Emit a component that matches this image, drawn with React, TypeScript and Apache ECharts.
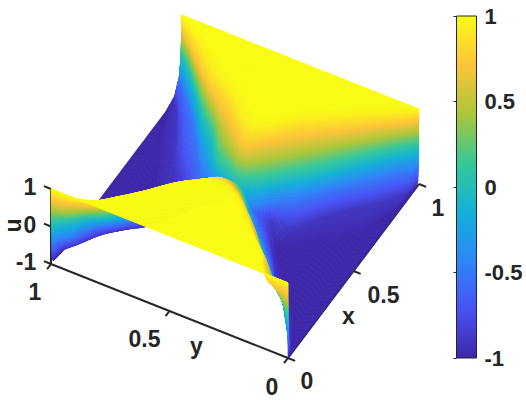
import React, { useEffect, useRef } from "react";
import * as echarts from "echarts";

// Parula colour map stops
const parula = ["#3E26A8", "#4852F4", "#2D87F7", "#12B1D6", "#37C897", "#ABC739", "#FEC338", "#F9FB15"];

// Surface: each row is a y position, each column a contour level of u.
const yRows = [0, 0.005, 0.01, 0.05, 0.1, 0.17, 0.23, 0.3, 0.38, 0.44, 0.5, 0.56, 0.62, 0.7, 0.77, 0.83, 0.9, 0.95, 0.99, 0.995, 1];
const uLevels = [1, 1, 0.95, 0.75, 0.4, 0, -0.5, -0.9, -1, -1, -0.9, -0.5, 0, 0.4, 0.75, 0.95, 1, 1];
const troughDepth = [1, 1, 1, 1, 1, 1, 1, 1, 0.85, 0.55, 0, 0.55, 0.85, 1, 1, 1, 1, 1, 1, 1, 1];
const xAtLevel = [
  [0, 0.0002, 0.0004, 0.0006, 0.0008, 0.001, 0.0015, 0.002, 0.004, 0.97, 0.99, 0.997, 0.998, 0.9985, 0.999, 0.9995, 0.9998, 1],
  [0, 0.0003, 0.0006, 0.001, 0.003, 0.006, 0.01, 0.018, 0.025, 0.88, 0.94, 0.975, 0.988, 0.99, 0.992, 0.996, 0.999, 1],
  [0, 0.0005, 0.001, 0.002, 0.005, 0.012, 0.018, 0.03, 0.05, 0.84, 0.92, 0.965, 0.982, 0.984, 0.987, 0.992, 0.996, 1],
  [0, 0.0005, 0.002, 0.005, 0.03, 0.06, 0.075, 0.1, 0.14, 0.72, 0.86, 0.93, 0.947, 0.95, 0.955, 0.97, 0.985, 1],
  [0, 0.001, 0.005, 0.02, 0.07, 0.115, 0.145, 0.18, 0.22, 0.62, 0.8, 0.875, 0.895, 0.905, 0.916, 0.94, 0.96, 1],
  [0, 0.085, 0.1, 0.12, 0.15, 0.17, 0.21, 0.25, 0.3, 0.56, 0.73, 0.8, 0.82, 0.84, 0.863, 0.895, 0.92, 1],
  [0, 0.145, 0.155, 0.175, 0.205, 0.23, 0.28, 0.32, 0.37, 0.5, 0.66, 0.738, 0.75, 0.785, 0.817, 0.855, 0.885, 1],
  [0, 0.2, 0.225, 0.25, 0.285, 0.31, 0.36, 0.42, 0.46, 0.47, 0.56, 0.655, 0.68, 0.715, 0.765, 0.81, 0.84, 1],
  [0, 0.27, 0.3, 0.33, 0.36, 0.385, 0.43, 0.5, 0.535, 0.55, 0.565, 0.592, 0.605, 0.64, 0.697, 0.75, 0.785, 1],
  [0, 0.3, 0.335, 0.37, 0.42, 0.465, 0.49, 0.505, 0.51, 0.515, 0.518, 0.53, 0.55, 0.585, 0.637, 0.685, 0.73, 1],
  [0, 0.31, 0.34, 0.39, 0.45, 0.515, 0.517, 0.518, 0.519, 0.52, 0.521, 0.522, 0.523, 0.55, 0.585, 0.645, 0.69, 1],
  [0, 0.285, 0.3, 0.34, 0.42, 0.465, 0.49, 0.505, 0.51, 0.515, 0.518, 0.525, 0.545, 0.58, 0.62, 0.67, 0.72, 1],
  [0, 0.23, 0.25, 0.29, 0.34, 0.385, 0.43, 0.5, 0.52, 0.53, 0.54, 0.555, 0.575, 0.625, 0.675, 0.73, 0.77, 1],
  [0, 0.14, 0.16, 0.2, 0.26, 0.31, 0.36, 0.42, 0.46, 0.47, 0.5, 0.61, 0.68, 0.71, 0.735, 0.785, 0.82, 1],
  [0, 0.07, 0.09, 0.12, 0.17, 0.22, 0.28, 0.32, 0.37, 0.46, 0.56, 0.7, 0.745, 0.77, 0.785, 0.83, 0.865, 1],
  [0, 0.02, 0.035, 0.055, 0.1, 0.145, 0.215, 0.27, 0.305, 0.5, 0.63, 0.785, 0.815, 0.83, 0.84, 0.88, 0.91, 1],
  [0, 0.001, 0.008, 0.025, 0.055, 0.1, 0.155, 0.2, 0.235, 0.62, 0.77, 0.87, 0.895, 0.9, 0.905, 0.935, 0.96, 1],
  [0, 0.0005, 0.002, 0.005, 0.02, 0.055, 0.075, 0.12, 0.18, 0.72, 0.87, 0.925, 0.945, 0.948, 0.95, 0.965, 0.985, 1],
  [0, 0.0005, 0.001, 0.002, 0.006, 0.02, 0.035, 0.06, 0.1, 0.85, 0.925, 0.962, 0.976, 0.98, 0.985, 0.99, 0.996, 1],
  [0, 0.0003, 0.0006, 0.001, 0.004, 0.012, 0.02, 0.035, 0.06, 0.87, 0.935, 0.972, 0.985, 0.987, 0.99, 0.993, 0.997, 1],
  [0, 0.0002, 0.0004, 0.0006, 0.001, 0.003, 0.005, 0.008, 0.02, 0.88, 0.945, 0.985, 0.995, 0.997, 0.998, 0.999, 0.9995, 1],
];

const xTicks = [0, 0.5, 1];
const yTicks = [0, 0.5, 1];
const uTicks = [-1, 0, 1];
const barTicks = [-1, -0.5, 0, 0.5, 1];

const ink = "#262626";
const font = "'Liberation Sans', Arial, sans-serif";

// Orthographic view of the MATLAB axes: plane coordinates of a data point (1 plane unit = 1 px).
const project = (x: number, y: number, u: number): [number, number] => [
  131 * x - 237 * y,
  174 * x + 94 * y + 37.5 * (u + 1),
];
const depth = (x: number, y: number, u: number) => 165 * x + 89 * y - 39.6 * u;

const hex = (c: string) => [1, 3, 5].map((i) => parseInt(c.slice(i, i + 2), 16));
const stops = parula.map(hex);
const colorOf = (u: number) => {
  const t = Math.max(0, Math.min(1, (u + 1) / 2)) * (stops.length - 1);
  const i = Math.min(stops.length - 2, Math.floor(t));
  const f = t - i;
  const c = stops[i].map((v, k) => Math.round(v + (stops[i + 1][k] - v) * f));
  return `rgb(${c[0]},${c[1]},${c[2]})`;
};

// Interpolated shading of the mesh, like MATLAB's "shading interp": each mesh cell is split into small facets.
const COL_SPLIT = 12;
const ROW_SPLIT = 6;
const levelU = (r: number, c: number) => (uLevels[c] < 0 ? uLevels[c] * troughDepth[r] : uLevels[c]);
const slope = (r: number, c: number) => {
  const a = Math.max(0, r - 1);
  const b = Math.min(yRows.length - 1, r + 1);
  return (xAtLevel[b][c] - xAtLevel[a][c]) / (yRows[b] - yRows[a]);
};
// Contour position between two rows: smooth curve that stays between the two read values.
const contourX = (r: number, c: number, s: number) => {
  const h = yRows[r + 1] - yRows[r];
  const p0 = xAtLevel[r][c];
  const p1 = xAtLevel[r + 1][c];
  const m0 = slope(r, c) * h;
  const m1 = slope(r + 1, c) * h;
  const s2 = s * s;
  const s3 = s2 * s;
  const v = (2 * s3 - 3 * s2 + 1) * p0 + (s3 - 2 * s2 + s) * m0 + (-2 * s3 + 3 * s2) * p1 + (s3 - s2) * m1;
  return Math.max(Math.min(p0, p1), Math.min(Math.max(p0, p1), v));
};
const facets: number[][] = [];
for (let r = 0; r < yRows.length - 1; r++) {
  const rowSplit = yRows[r + 1] - yRows[r] <= 0.01 ? 2 : ROW_SPLIT;
  for (let c = 0; c < uLevels.length - 1; c++) {
    const at = (s: number, t: number) => {
      const xa = contourX(r, c, s);
      const xb = contourX(r, c + 1, s);
      const u0 = levelU(r, c) + (levelU(r + 1, c) - levelU(r, c)) * s;
      const u1 = levelU(r, c + 1) + (levelU(r + 1, c + 1) - levelU(r, c + 1)) * s;
      return [xa + (xb - xa) * t, yRows[r] + (yRows[r + 1] - yRows[r]) * s, u0 + (u1 - u0) * t];
    };
    const colSplit = uLevels[c] === uLevels[c + 1] ? 1 : COL_SPLIT;
    for (let i = 0; i < rowSplit; i++) {
      for (let j = 0; j < colSplit; j++) {
        const ps = [
          at(i / rowSplit, j / colSplit),
          at(i / rowSplit, (j + 1) / colSplit),
          at((i + 1) / rowSplit, (j + 1) / colSplit),
          at((i + 1) / rowSplit, j / colSplit),
        ];
        const mid = [0, 1, 2].map((k) => (ps[0][k] + ps[1][k] + ps[2][k] + ps[3][k]) / 4);
        const pl = ps.flatMap((p) => project(p[0], p[1], p[2]));
        facets.push([...pl, mid[2], depth(mid[0], mid[1], mid[2])]);
      }
    }
  }
}
facets.sort((a, b) => b[9] - a[9]);

// Axis segments in data space
const TICK = 0.03;
const axisSegments: number[][] = [
  [0, 0, -1, 1, 0, -1],
  [0, 0, -1, 0, 1, -1],
  [0, 1, -1, 0, 1, 1],
  ...xTicks.map((x) => [x, 0, -1, x, -TICK, -1]),
  ...yTicks.map((y) => [0, y, -1, -TICK, y, -1]),
  ...uTicks.map((u) => [0, 1, u, 0, 1 + TICK, u]),
];

// [x, y, u, text, dx, dy, rotated]
const labels: [number, number, number, string, number, number, number][] = [
  [0, 0, -1, "0", 19, 23, 0],
  [0.5, 0, -1, "0.5", 30, 24, 0],
  [1, 0, -1, "1", 19, 24, 0],
  [0.5, 0, -1, "x", -5, 45, 0],
  [0, 0, -1, "0", -16, 29, 0],
  [0, 0.5, -1, "0.5", -25, 28, 0],
  [0, 1, -1, "1", -16, 28, 0],
  [0, 0.5, -1, "y", 27, 35, 0],
  [0, 1, 1, "1", -21, -2, 0],
  [0, 1, 0, "0", -21, -2, 0],
  [0, 1, -1, "-1", -25, -2, 0],
  [0, 1, 0, "u", -38, -1, 1],
];

export default function App() {
  const ref = useRef<HTMLDivElement>(null);
  useEffect(() => {
    const chart = echarts.init(ref.current!, undefined, { renderer: "svg" });
    chart.setOption({
      animation: false,
      backgroundColor: "#fff",
      grid: [
        { left: 0, top: 0, width: 526, height: 400 },
        { left: 456.5, top: 16, width: 20, height: 342 },
      ],
      xAxis: [
        { type: "value", gridIndex: 0, min: -288, max: 238, show: false },
        { type: "value", gridIndex: 1, min: 0, max: 1, show: false },
      ],
      yAxis: [
        { type: "value", gridIndex: 0, min: -42, max: 358, show: false },
        {
          type: "value",
          gridIndex: 1,
          min: -1,
          max: 1,
          interval: 0.5,
          position: "right",
          splitLine: { show: false },
          axisLine: { show: false },
          axisTick: { show: true, inside: true, length: 3, lineStyle: { color: ink, width: 1 } },
          axisLabel: {
            color: ink,
            fontSize: 22,
            fontWeight: "bold",
            fontFamily: font,
            margin: 8,
            customValues: barTicks,
            formatter: (v: number) => String(v),
          },
        },
      ],
      series: [
        {
          type: "custom",
          name: "axes",
          xAxisIndex: 0,
          yAxisIndex: 0,
          z: 1,
          clip: false,
          silent: true,
          data: axisSegments,
          encode: { x: [], y: [] },
          renderItem: (_p: any, api: any) => {
            const a = project(api.value(0), api.value(1), api.value(2));
            const b = project(api.value(3), api.value(4), api.value(5));
            const pa = api.coord(a);
            const pb = api.coord(b);
            return {
              type: "line",
              shape: { x1: pa[0], y1: pa[1], x2: pb[0], y2: pb[1] },
              style: { stroke: ink, lineWidth: 2, fill: "none" },
            };
          },
        },
        {
          type: "custom",
          name: "u",
          xAxisIndex: 0,
          yAxisIndex: 0,
          z: 2,
          clip: false,
          silent: true,
          progressive: 0,
          data: facets,
          encode: { x: [0], y: [1] },
          renderItem: (_p: any, api: any) => {
            const points = [0, 2, 4, 6].map((k) => api.coord([api.value(k), api.value(k + 1)]));
            const fill = colorOf(api.value(8));
            return {
              type: "polygon",
              shape: { points },
              style: { fill, stroke: fill, lineWidth: 0.8 },
            };
          },
        },
        {
          type: "custom",
          name: "labels",
          xAxisIndex: 0,
          yAxisIndex: 0,
          z: 3,
          clip: false,
          silent: true,
          data: labels.map((l, i) => [l[0], l[1], l[2], i]),
          encode: { x: [], y: [] },
          renderItem: (_p: any, api: any) => {
            const l = labels[api.value(3)];
            const p = api.coord(project(l[0], l[1], l[2]));
            return {
              type: "text",
              x: p[0] + l[4],
              y: p[1] + l[5],
              rotation: l[6] ? Math.PI / 2 : 0,
              style: {
                text: l[3],
                fill: ink,
                fontSize: 23,
                fontWeight: "bold",
                fontFamily: font,
                align: "center",
                verticalAlign: "middle",
              },
            };
          },
        },
        {
          type: "custom",
          name: "colorbar",
          xAxisIndex: 1,
          yAxisIndex: 1,
          z: 1,
          clip: false,
          silent: true,
          data: [[0, -1, 1, 1]],
          encode: { x: [0, 2], y: [1, 3] },
          renderItem: (_p: any, api: any) => {
            const a = api.coord([api.value(0), api.value(1)]);
            const b = api.coord([api.value(2), api.value(3)]);
            return {
              type: "rect",
              shape: { x: a[0], y: b[1], width: b[0] - a[0], height: a[1] - b[1] },
              style: {
                stroke: ink,
                lineWidth: 1,
                fill: new echarts.graphic.LinearGradient(
                  0,
                  1,
                  0,
                  0,
                  parula.map((color, i) => ({ offset: i / (parula.length - 1), color })),
                ),
              },
            };
          },
        },
      ],
    });
    return () => chart.dispose();
  }, []);
  return <div ref={ref} style={{ position: "fixed", left: 0, top: 0, width: 526, height: 400 }} />;
}
